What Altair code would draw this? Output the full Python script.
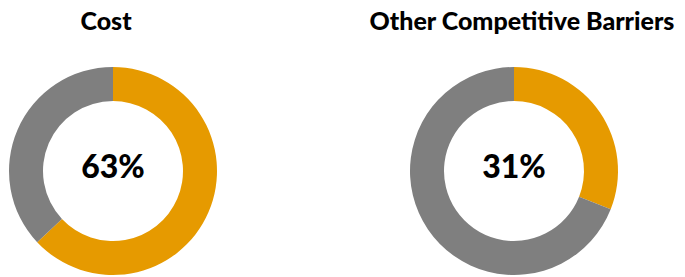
import altair as alt
import pandas as pd

titles = ["Cost", "Other Competitive Barriers"]
shares = [63, 31]
segments = ["Share", "Rest"]
colors = ["#E69A00", "#7F7F7F"]
title_dx = [-7, 8]


def donut(title, share, dx):
    df = pd.DataFrame({
        "segment": segments,
        "value": [share, 100 - share],
        "order": [0, 1],
    })
    arc = alt.Chart(df).mark_arc(radius=104, radius2=70).encode(
        theta=alt.Theta("value:Q", stack=True),
        color=alt.Color("segment:N", scale=alt.Scale(domain=segments, range=colors), legend=None),
        order=alt.Order("order:Q"),
    )
    label = alt.Chart(pd.DataFrame({"label": [f"{share}%"]})).mark_text(
        font="Lato", fontWeight=900, fontSize=32, color="black", dy=-3
    ).encode(text="label:N")
    return alt.layer(arc, label).properties(
        width=210,
        height=210,
        title=alt.TitleParams(
            title, font="Lato", fontSize=25, fontWeight=900, color="black",
            anchor="middle", offset=31, dx=dx,
        ),
    )


chart = alt.hconcat(
    *[donut(t, s, d) for t, s, d in zip(titles, shares, title_dx)],
    spacing=191,
    bounds="flush",
).properties(padding={"top": 2, "left": 0, "right": 0, "bottom": 0}).configure_view(stroke=None)

chart.save("out.html", embed_options={"renderer": "svg", "actions": False})
